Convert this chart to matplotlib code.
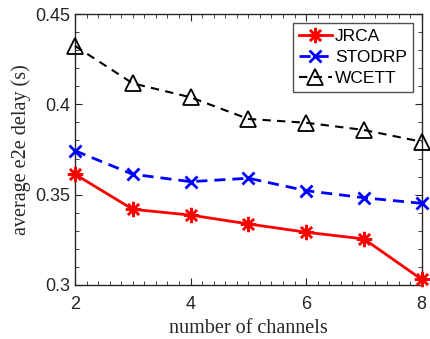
import matplotlib
matplotlib.use("Agg")
import matplotlib.pyplot as plt
from matplotlib.ticker import MultipleLocator

channels = [2, 3, 4, 5, 6, 7, 8]
jrca = [0.3613, 0.3419, 0.3387, 0.3338, 0.3292, 0.3255, 0.3031]
stodrp = [0.3743, 0.3613, 0.3572, 0.3591, 0.3522, 0.3483, 0.3452]
wcett = [0.4323, 0.4116, 0.4039, 0.3919, 0.3898, 0.3858, 0.3793]

plt.rcParams['font.family'] = ['Liberation Sans', 'DejaVu Sans']

fig = plt.figure(figsize=(4.3, 3.39), dpi=100)
ax = fig.add_axes([0.1744, 0.1593, 0.8063, 0.7994])

ax.plot(channels, jrca, '-', color='red', lw=2, marker=(8, 2, 0), ms=11, mew=1.8, label='JRCA',
        clip_on=False, zorder=3)
ax.plot(channels, stodrp, '--', color='blue', lw=2, dashes=(4, 2.5), marker='x', ms=9, mew=2,
        label='STODRP', clip_on=False, zorder=3)
ax.plot(channels, wcett, '--', color='black', lw=1.5, dashes=(4, 3), marker='^', ms=11, mew=1.3,
        mfc='none', label='WCETT', clip_on=False, zorder=3)

ax.set_xlim(2, 8)
ax.set_ylim(0.3, 0.45)
ax.set_xticks([2, 4, 6, 8])
ax.set_yticks([0.3, 0.35, 0.4, 0.45])
ax.set_yticklabels(['0.3', '0.35', '0.4', '0.45'])
ax.xaxis.set_minor_locator(MultipleLocator(0.2))
ax.yaxis.set_minor_locator(MultipleLocator(0.01))
ax.tick_params(which='both', direction='in', top=True, right=True, labelsize=13, colors='#262626',
               labelcolor='#262626')
ax.tick_params(which='major', length=5, width=0.8)
ax.tick_params(which='minor', length=3, width=0.6)
ax.tick_params(axis='x', pad=8)
for s in ax.spines.values():
    s.set_linewidth(1.0)
    s.set_color('#262626')

ax.set_xlabel('number of channels', family='Liberation Serif', fontsize=14.5, color='#262626', labelpad=4)
ax.set_ylabel('average e2e delay (s)', family='Liberation Serif', fontsize=14.5, color='#262626', labelpad=3)

leg = ax.legend(loc='upper right', fontsize=12.5, fancybox=False, edgecolor='#262626',
                borderpad=0.35, labelspacing=0.35, handlelength=1.9, handletextpad=0.2,
                borderaxespad=0.5)
leg.get_frame().set_linewidth(1.0)

fig.savefig('out.png', dpi=100)
